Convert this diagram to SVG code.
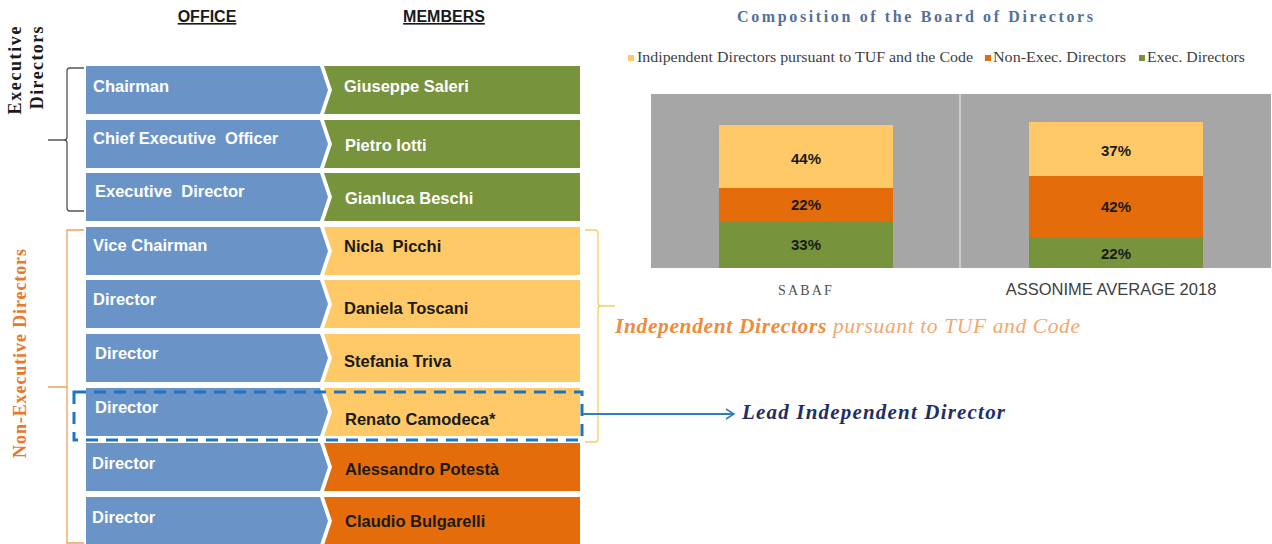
<svg xmlns="http://www.w3.org/2000/svg" width="1272" height="544" viewBox="0 0 1272 544">
<style>
.off{fill:#6a94c8}
.mem-g{fill:#77933c}
.mem-y{fill:#fec966}
.mem-o{fill:#e46c0a}
.ot{font-family:"Liberation Sans",Arial,sans-serif;font-weight:bold;font-size:16.5px;fill:#ffffff}
.mt{font-family:"Liberation Sans",Arial,sans-serif;font-weight:bold;font-size:16.5px;fill:#ffffff}
.mtd{font-family:"Liberation Sans",Arial,sans-serif;font-weight:bold;font-size:16.5px;fill:#1a1a1a}
.hd{font-family:"Liberation Sans",Arial,sans-serif;font-weight:bold;font-size:16px;fill:#1a1a1a;text-decoration:underline}
.pct{font-family:"Liberation Sans",Arial,sans-serif;font-weight:bold;font-size:15px;fill:#1a1a1a;text-anchor:middle}
.leg{font-family:"Liberation Serif","Times New Roman",serif;font-size:14px;fill:#404040}
.br{fill:none;stroke-width:1.3}
</style>
<defs>
<marker id="arr" markerWidth="12" markerHeight="12" refX="10" refY="6" orient="auto" markerUnits="userSpaceOnUse">
<path d="M2,1 L10,6 L2,11" fill="none" stroke="#2e7ec2" stroke-width="1.5"/>
</marker>
</defs>
<rect width="1272" height="544" fill="#ffffff"/>

<!-- headers -->
<text class="hd" x="207" y="22" text-anchor="middle">OFFICE</text>
<text class="hd" x="444" y="22" text-anchor="middle">MEMBERS</text>

<!-- side labels -->
<g id="exec-label">
<text transform="translate(21,25) rotate(-90)" text-anchor="end" font-family="'Liberation Serif','Times New Roman',serif" font-weight="bold" font-size="18" letter-spacing="1.6" fill="#1a1a1a">Executive</text>
<text transform="translate(43,25) rotate(-90)" text-anchor="end" font-family="'Liberation Serif','Times New Roman',serif" font-weight="bold" font-size="18" letter-spacing="1.4" fill="#1a1a1a">Directors</text>
<path class="br" stroke="#555555" d="M84,68 H70 Q67,68 67,71 V137 Q67,140 64,140 H48 M64,140 Q67,140 67,143 V208 Q67,211 70,211 H84"/>
</g>
<g id="nonexec-label">
<text transform="translate(26,353) rotate(-90)" text-anchor="middle" font-family="'Liberation Serif','Times New Roman',serif" font-weight="bold" font-size="18" letter-spacing="0.9" fill="#e8782e">Non-Executive Directors</text>
<path class="br" stroke="#f0a060" d="M84,230 H67 V543 H84 M48,387 H67"/>
</g>

<!-- rows -->
<g id="row1">
<polygon class="off" points="86,66 320,66 328,90 320,114 86,114"/>
<polygon class="mem-g" points="324,66 580,66 580,114 324,114 332,90"/>
<text class="ot" x="93" y="92">Chairman</text>
<text class="mt" x="344" y="92">Giuseppe Saleri</text>
</g>
<g id="row2">
<polygon class="off" points="86,120 320,120 328,144 320,168 86,168"/>
<polygon class="mem-g" points="324,120 580,120 580,168 324,168 332,144"/>
<text class="ot" x="93" y="144" xml:space="preserve">Chief Executive  Officer</text>
<text class="mt" x="345" y="151">Pietro Iotti</text>
</g>
<g id="row3">
<polygon class="off" points="86,173 320,173 328,197 320,221 86,221"/>
<polygon class="mem-g" points="324,173 580,173 580,221 324,221 332,197"/>
<text class="ot" x="95" y="197" xml:space="preserve">Executive  Director</text>
<text class="mt" x="345" y="204">Gianluca Beschi</text>
</g>
<g id="row4">
<polygon class="off" points="86,227 320,227 328,251 320,275 86,275"/>
<polygon class="mem-y" points="324,227 580,227 580,275 324,275 332,251"/>
<text class="ot" x="93" y="251">Vice Chairman</text>
<text class="mtd" x="344" y="252" xml:space="preserve">Nicla  Picchi</text>
</g>
<g id="row5">
<polygon class="off" points="86,280 320,280 328,304 320,328 86,328"/>
<polygon class="mem-y" points="324,280 580,280 580,328 324,328 332,304"/>
<text class="ot" x="93" y="305">Director</text>
<text class="mtd" x="344" y="314">Daniela Toscani</text>
</g>
<g id="row6">
<polygon class="off" points="86,334 320,334 328,358 320,382 86,382"/>
<polygon class="mem-y" points="324,334 580,334 580,382 324,382 332,358"/>
<text class="ot" x="95" y="359">Director</text>
<text class="mtd" x="344" y="367">Stefania Triva</text>
</g>
<g id="row7">
<polygon class="off" points="86,388 320,388 328,412 320,436 86,436"/>
<polygon class="mem-y" points="324,388 580,388 580,436 324,436 332,412"/>
<text class="ot" x="95" y="413">Director</text>
<text class="mtd" x="345" y="425">Renato Camodeca*</text>
</g>
<g id="row8">
<polygon class="off" points="86,443 320,443 328,467 320,491 86,491"/>
<polygon class="mem-o" points="324,443 580,443 580,491 324,491 332,467"/>
<text class="ot" x="92" y="469">Director</text>
<text class="mtd" x="345" y="475">Alessandro Potestà</text>
</g>
<g id="row9">
<polygon class="off" points="86,497 320,497 328,521 320,545 86,545"/>
<polygon class="mem-o" points="324,497 580,497 580,545 324,545 332,521"/>
<text class="ot" x="92" y="523">Director</text>
<text class="mtd" x="345" y="527">Claudio Bulgarelli</text>
</g>

<!-- lead independent dashed box -->
<g id="lead-box">
<rect x="74" y="392" width="508" height="48" fill="none" stroke="#1f74c4" stroke-width="3" stroke-dasharray="12 8"/>
</g>

<!-- independent bracket + label -->
<g id="indep-label">
<path class="br" stroke="#f5cf63" d="M585,230 H595 Q598,230 598,233 V303 Q598,306 601,306 H615 M601,306 Q598,306 598,309 V439 Q598,442 595,442 H585"/>
<text x="615" y="333" font-family="'Liberation Serif','Times New Roman',serif" font-style="italic" font-size="21.5" textLength="465" lengthAdjust="spacing"><tspan font-weight="bold" fill="#f08a3c">Independent Directors</tspan><tspan fill="#f5a86c"> pursuant to TUF and Code</tspan></text>
</g>

<g id="connectors">
<line x1="583" y1="414" x2="734" y2="414" stroke="#2e7ec2" stroke-width="1.8" marker-end="url(#arr)"/>
</g>

<g id="lead-label">
<text x="742" y="419" font-family="'Liberation Serif','Times New Roman',serif" font-style="italic" font-weight="bold" font-size="21" textLength="263" lengthAdjust="spacing" fill="#1f2e68">Lead Independent Director</text>
</g>

<!-- chart -->
<g id="chart">
<text x="737" y="22" font-family="'Liberation Serif','Times New Roman',serif" font-weight="bold" font-size="16" textLength="356" lengthAdjust="spacing" fill="#52709a">Composition of the Board of Directors</text>
<rect x="628" y="55" width="6" height="6" fill="#fec966"/>
<text class="leg" x="637" y="62" textLength="336" lengthAdjust="spacingAndGlyphs">Indipendent Directors pursuant to TUF and the Code</text>
<rect x="985" y="55" width="6" height="6" fill="#e46c0a"/>
<text class="leg" x="993" y="62" textLength="133" lengthAdjust="spacingAndGlyphs">Non-Exec. Directors</text>
<rect x="1139" y="55" width="6" height="6" fill="#77933c"/>
<text class="leg" x="1147" y="62" textLength="98" lengthAdjust="spacingAndGlyphs">Exec. Directors</text>

<rect x="651" y="94" width="620" height="174" fill="#a6a6a6"/>
<line x1="960" y1="94" x2="960" y2="268" stroke="#e6e6e6" stroke-width="1.2"/>

<rect x="719" y="125" width="174" height="63" fill="#fec966"/>
<rect x="719" y="188" width="174" height="33" fill="#e46c0a"/>
<rect x="719" y="221" width="174" height="47" fill="#77933c"/>
<text class="pct" x="806" y="164">44%</text>
<text class="pct" x="806" y="210">22%</text>
<text class="pct" x="806" y="250">33%</text>

<rect x="1029" y="122" width="174" height="54" fill="#fec966"/>
<rect x="1029" y="176" width="174" height="61" fill="#e46c0a"/>
<rect x="1029" y="237" width="174" height="31" fill="#77933c"/>
<text class="pct" x="1116" y="156">37%</text>
<text class="pct" x="1116" y="212">42%</text>
<text class="pct" x="1116" y="259">22%</text>

<text x="806" y="295" text-anchor="middle" font-family="'Liberation Serif','Times New Roman',serif" font-size="14" letter-spacing="2.2" fill="#505050">SABAF</text>
<text x="1111" y="295" text-anchor="middle" font-family="'Liberation Sans',Arial,sans-serif" font-size="16.5" fill="#404040">ASSONIME AVERAGE 2018</text>
</g>
</svg>
